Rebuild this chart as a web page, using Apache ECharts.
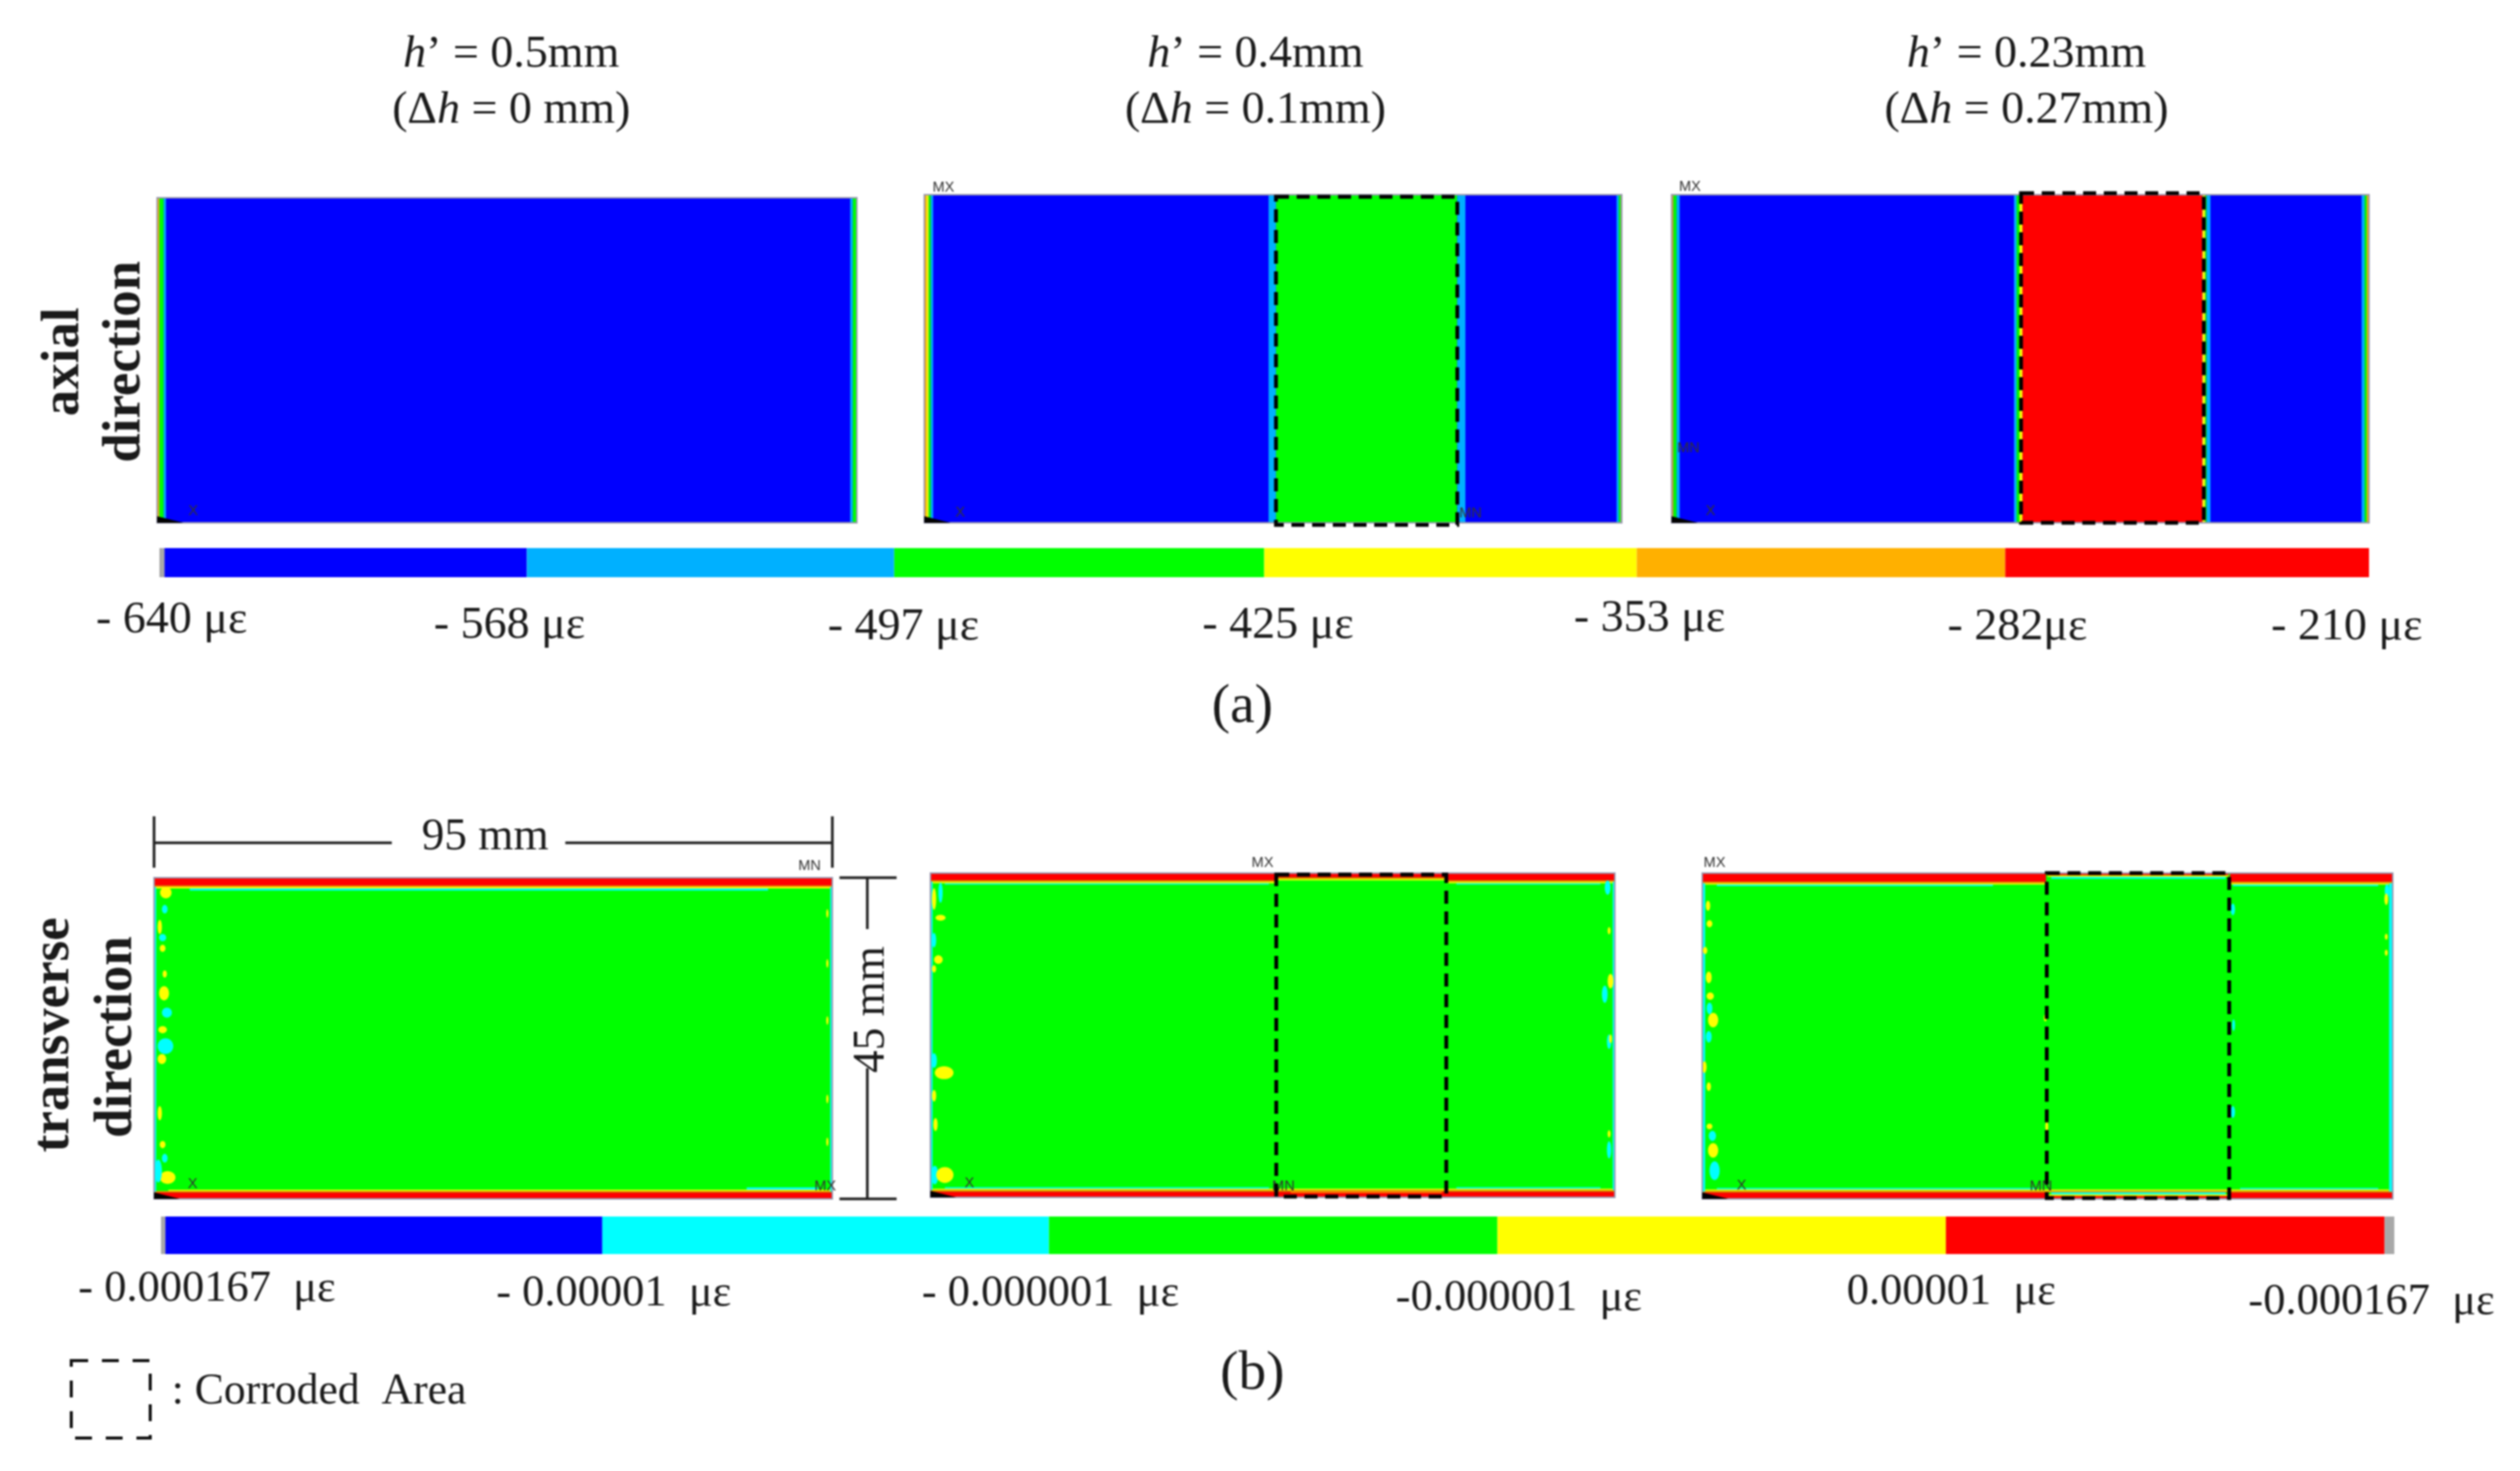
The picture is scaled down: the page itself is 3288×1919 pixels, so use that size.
<!DOCTYPE html>
<html>
<head>
<meta charset="utf-8">
<style>
html,body{margin:0;padding:0;background:#fff}
#chart{width:3288px;height:1919px;filter:blur(0.9px)}
</style>
<script src="https://cdn.jsdelivr.net/npm/echarts@6/dist/echarts.min.js"></script>
</head>
<body>
<div id="chart"></div>
<script>
// ---------- values (panel coordinates in mm, 95 x 45 plate) ----------
const panelLengthMm = 95;
const panelHeightMm = 45;

const headings = [["0.5mm", "0 mm"], ["0.4mm", "0.1mm"], ["0.23mm", "0.27mm"]];

// strain scale: tick values, labels and where each colour band starts
const axialTicks = [-640, -568, -497, -425, -353, -282, -210];
const axialTickLabels = ["- 640 με", "- 568 με", "- 497 με", "- 425 με", "- 353 με", "- 282με", "- 210 με"];
const axialBandStarts = [-640, -568.5, -497, -425, -352.5, -280.8];
const axialBandKeys = ["B", "C", "G", "Y", "O", "R"];

const transverseTicks = [0, 0.992, 1.996, 3.004, 4.012, 4.998];
const transverseEnd = 5.02;
const transverseTickLabels = ["- 0.000167  με", "- 0.00001  με", "- 0.000001  με", "-0.000001  με", "0.00001  με", "-0.000167  με"];
const transverseBandStarts = [0, 0.992, 1.996, 3.004, 4.012, 4.998];
const transverseBandKeys = ["B", "C", "G", "Y", "R", "N"];

// contour regions [x0, x1, y0, y1, colourKey]
const axial1Regions = [
  [0, 95, 0, 45, "B"],
  [0, 0.3, 0, 45, "O"], [0.3, 0.9, 0, 45, "G"], [0.9, 1.2, 0, 45, "C"],
  [94.1, 94.45, 0, 45, "C"], [94.45, 95, 0, 45, "G"]
];
const axial2Regions = [
  [0, 95, 0, 45, "B"],
  [0, 0.3, 0, 45, "O"], [0.3, 0.6, 0, 45, "Y"], [0.6, 0.9, 0, 45, "G"], [0.9, 1.2, 0, 45, "C"],
  [46.9, 47.9, 0, 45, "C"], [47.9, 72.6, 0, 45, "G"], [72.6, 73.7, 0, 45, "C"],
  [94.3, 94.6, 0, 45, "C"], [94.6, 94.85, 0, 45, "G"], [94.85, 95, 0, 45, "Y"]
];
const axial3Regions = [
  [0, 95, 0, 45, "B"],
  [0, 0.25, 0, 45, "O"], [0.25, 0.7, 0, 45, "G"], [0.7, 1.1, 0, 45, "C"],
  [46.65, 47, 0, 45, "C"], [47, 47.4, 0, 45, "G"], [47.4, 47.8, 0, 45, "Y"], [47.8, 72.3, 0, 45, "R"],
  [72.3, 72.7, 0, 45, "Y"], [72.7, 72.9, 0, 45, "G"], [72.9, 73.4, 0, 45, "C"],
  [94, 94.4, 0, 45, "C"], [94.4, 94.7, 0, 45, "G"], [94.7, 95, 0, 45, "O"]
];
const trans1Regions = [
  [0, 95, 0, 45, "G"],
  [5, 86, 43.2, 43.5, "C"], [0, 95, 43.5, 43.7, "Y"], [0, 95, 43.7, 43.9, "O"], [0, 95, 43.9, 45, "R"],
  [83, 93, 1.3, 1.6, "C"], [2, 95, 1.1, 1.3, "Y"], [0, 95, 0.9, 1.1, "O"], [0, 95, 0, 0.9, "R"],
  [0, 0.3, 1, 43.7, "C"], [94.7, 95, 1, 43.7, "C"]
];
const trans2Regions = [
  [0, 95, 0, 45, "G"],
  [2, 47, 43.4, 43.6, "C"], [73, 93, 43.4, 43.6, "C"],
  [0, 48, 43.6, 43.8, "Y"], [71.6, 95, 43.6, 43.8, "Y"], [48, 71.6, 44, 44.2, "Y"],
  [0, 48, 43.8, 44, "O"], [71.6, 95, 43.8, 44, "O"], [48, 71.6, 44.2, 44.4, "O"],
  [0, 48, 44, 45, "R"], [71.6, 95, 44, 45, "R"], [48, 71.6, 44.4, 45, "R"],
  [2, 47, 1.2, 1.4, "C"], [73, 93, 1.2, 1.4, "C"],
  [0, 95, 1, 1.2, "Y"], [0, 95, 0.8, 1, "O"], [0, 95, 0, 0.8, "R"],
  [50, 71, 0.6, 0.8, "O"],
  [0, 0.3, 1, 43.8, "C"], [94.7, 95, 1, 43.8, "C"]
];
const trans3Regions = [
  [0, 95, 0, 45, "G"],
  [2, 40, 43.2, 43.4, "C"], [73, 93, 43.2, 43.4, "C"],
  [0, 47.3, 43.4, 43.6, "Y"], [72.6, 95, 43.4, 43.6, "Y"],
  [0, 47.3, 43.6, 43.8, "O"], [72.6, 95, 43.6, 43.8, "O"],
  [0, 47.3, 43.8, 45, "R"], [72.6, 95, 43.8, 45, "R"],
  [48, 72, 44.2, 44.5, "C"], [47.5, 72.4, 44.5, 44.7, "Y"], [47.5, 72.4, 44.7, 45, "R"],
  [2, 46, 1.3, 1.5, "C"], [74, 93, 1.3, 1.5, "C"],
  [0, 95, 1.1, 1.3, "Y"], [0, 95, 0.9, 1.1, "O"], [0, 47.3, 0, 0.9, "R"], [72.6, 95, 0, 0.9, "R"],
  [48, 72, 0.6, 0.9, "C"], [47.5, 72.4, 0.4, 0.6, "Y"], [47.5, 72.4, 0, 0.4, "R"],
  [0, 0.4, 1, 43.6, "C"], [94.5, 95, 1, 43.6, "C"]
];

// small contour islands [x, y, xRadius, yRadius, colourKey]
const trans1Islands = [
  [1.65,42.9,.8,.8,"Y"],[.8,38.1,.3,1,"Y"],[1.5,40.6,.4,.6,"C"],[1.2,35.1,.4,.5,"Y"],[1.2,36.6,.5,.5,"C"],
  [1.5,31.5,.3,.5,"Y"],[1.4,28.8,.7,1,"Y"],[1.8,26.1,.7,.7,"C"],[1.2,23.7,.6,.5,"Y"],[1.6,21.4,1.1,1.1,"C"],
  [1.1,19.6,.6,.7,"Y"],[.8,12,.3,1,"Y"],[1.2,7.6,.4,.5,"Y"],[1.5,5.7,.4,.6,"C"],[1.9,3,1.1,.9,"Y"],[.6,3.9,.5,1.6,"C"],
  [94.3,40,.15,.6,"Y"],[94.3,33,.15,.6,"Y"],[94.3,25,.15,.6,"Y"],[94.3,14,.15,.6,"Y"],[94.3,8,.15,.6,"Y"]
];
const trans2Islands = [
  [1.4,42.3,.3,1.4,"C"],[.5,41.4,.3,1.5,"Y"],[1.4,38.8,.7,.4,"Y"],[.5,35.7,.3,1,"C"],[1.1,33,.6,.6,"Y"],[.5,31.7,.3,.5,"Y"],
  [.5,19,.4,1,"C"],[1.9,17.3,1.3,.9,"Y"],[.5,14.1,.3,.8,"Y"],[.7,10.1,.3,.9,"Y"],[.6,3.1,.5,1.3,"C"],[2,3.1,1.2,1.1,"Y"],
  [94,43,.4,1,"C"],[93.6,28.2,.4,1.2,"C"],[94.4,30,.4,1,"Y"],[94.2,37,.2,.5,"Y"],[94.2,21.6,.3,1,"C"],[94.4,22,.2,.6,"Y"],
  [94.2,6.6,.3,1.2,"C"],[94.2,8.8,.2,.5,"Y"]
];
const trans3Islands = [
  [.8,40.5,.3,.7,"Y"],[1,38,.4,.5,"Y"],[.4,34.3,.3,.5,"Y"],[.9,30.6,.4,.8,"Y"],[1.1,28,.5,.5,"Y"],[1.5,24.7,.7,1,"Y"],
  [.3,18.2,.3,.8,"Y"],[.9,15.5,.3,.6,"Y"],[1,10,.4,.4,"Y"],[1.5,6.7,.7,1,"Y"],[1,26.3,.4,.8,"C"],[.9,22.4,.4,.8,"C"],
  [1.4,8.7,.5,.7,"C"],[1.7,3.9,.7,1.3,"C"],[94.2,42.5,.3,1,"C"],[94.1,41.4,.25,.8,"Y"],[94.1,36.2,.2,.4,"Y"],[94.1,34,.2,.4,"Y"],
  [47.3,34,.2,.5,"C"],[47.2,25,.2,.5,"Y"],[47.4,10,.2,.7,"Y"],[73,40,.3,.8,"C"],[73.1,24,.2,.8,"C"],[73,12,.3,.8,"C"]
];

// corroded area rectangles [x0, x1, y0, y1]
const axial2Corroded = [47.9, 72.6, -0.3, 44.7];
const axial3Corroded = [47.6, 72.5, 0, 45.2];
const trans2Corroded = [48, 71.6, 0.1, 44.8];
const trans3Corroded = [47.4, 72.5, 0.1, 45];

// solver marks [x, y, text]
const axial1Marks = [[4.9, 0.6, "X"]];
const axial2Marks = [[4.9, 0.4, "X"], [74.4, 0.3, "MN"], [2.6, 45, "MX"]];
const axial3Marks = [[5.3, 0.6, "X"], [2.5, 45.1, "MX"], [2.3, 9.2, "MN"]];
const trans1Marks = [[91.8, 45.6, "MN"], [5.4, 1, "X"], [94, 0.7, "MX"]];
const trans2Marks = [[46.1, 45.4, "MX"], [5.4, 0.9, "X"], [49, 0.5, "MN"]];
const trans3Marks = [[1.7, 45.4, "MX"], [5.4, 0.8, "X"], [46.6, 0.7, "MN"]];

// dimension lines on the first transverse panel, mm [x0, y0, x1, y1]
const dimensionLines = [
  [0, 49.9, 33.3, 49.9], [57.6, 49.9, 95, 49.9], [0, 46.4, 0, 53.6], [95, 46.4, 95, 53.6],
  [99.9, 45, 99.9, 37.8], [99.9, 18.3, 99.9, 0], [96, 45, 104, 45], [96, 0, 104, 0]
];

// ---------- styles and layout ----------
const axialColors = {B:"#0000ff", C:"#00b0ff", G:"#00ff00", Y:"#ffff00", O:"#ffb000", R:"#ff0000", N:"#a8a8a8"};
const transColors = {B:"#0000ff", C:"#00ffff", G:"#00ff00", Y:"#ffff00", O:"#ff9000", R:"#ff0000", N:"#a8a8a8"};
const SERIF = '"Liberation Serif","Times New Roman",serif';

const panels = [
  {box:[205,258,913,424], regions:axial1Regions, islands:[], corroded:null, marks:axial1Marks, colors:axialColors},
  {box:[1206,254,910,428], regions:axial2Regions, islands:[], corroded:axial2Corroded, marks:axial2Marks, colors:axialColors},
  {box:[2181,254,910,428], regions:axial3Regions, islands:[], corroded:axial3Corroded, marks:axial3Marks, colors:axialColors},
  {box:[201,1145,885,419], regions:trans1Regions, islands:trans1Islands, corroded:null, marks:trans1Marks, colors:transColors},
  {box:[1214,1139,893,423], regions:trans2Regions, islands:trans2Islands, corroded:trans2Corroded, marks:trans2Marks, colors:transColors},
  {box:[2221,1139,901,425], regions:trans3Regions, islands:trans3Islands, corroded:trans3Corroded, marks:trans3Marks, colors:transColors}
];

const grids = [], xAxes = [], yAxes = [], series = [];

function addGrid(box, xMin, xMax, yMax) {
  const i = grids.length;
  grids.push({left:box[0], top:box[1], width:box[2], height:box[3], containLabel:false, show:false});
  xAxes.push({type:"value", gridIndex:i, min:xMin, max:xMax, show:false});
  yAxes.push({type:"value", gridIndex:i, min:0, max:yMax, show:false});
  return i;
}

function rectSeries(gi, data, colors, z) {
  series.push({
    type:"custom", xAxisIndex:gi, yAxisIndex:gi, coordinateSystem:"cartesian2d", z:z, silent:true,
    encode:{x:[0,1], y:[2,3]}, data:data,
    renderItem(params, api) {
      const a = api.coord([api.value(0), api.value(3)]);
      const b = api.coord([api.value(1), api.value(2)]);
      return {type:"rect", shape:{x:a[0], y:a[1], width:b[0]-a[0], height:b[1]-a[1]},
        style:{fill:colors[data[params.dataIndex][4]]}};
    }
  });
}

panels.forEach((p, idx) => {
  const gi = addGrid(p.box, 0, panelLengthMm, panelHeightMm);
  rectSeries(gi, p.regions, p.colors, 2);
  if (p.islands.length) {
    series.push({
      type:"custom", xAxisIndex:gi, yAxisIndex:gi, z:3, silent:true, encode:{x:0, y:1}, data:p.islands,
      renderItem(params, api) {
        const d = p.islands[params.dataIndex];
        const c = api.coord([d[0], d[1]]);
        const e = api.coord([d[0]+d[2], d[1]+d[3]]);
        return {type:"ellipse", shape:{cx:c[0], cy:c[1], rx:Math.abs(e[0]-c[0]), ry:Math.abs(e[1]-c[1])},
          style:{fill:p.colors[d[4]]}};
      }
    });
  }
  // outline of the plate and the small black corner triangle
  series.push({
    type:"custom", xAxisIndex:gi, yAxisIndex:gi, z:4, silent:true, encode:{x:0, y:1}, data:[[0,0]],
    renderItem(params, api) {
      const o = api.coord([0,0]), w = api.coord([3.6,0]), h = api.coord([0,0.9]), t = api.coord([panelLengthMm,panelHeightMm]);
      return {type:"group", children:[
        {type:"rect", shape:{x:o[0], y:t[1], width:t[0]-o[0], height:o[1]-t[1]}, style:{fill:"none", stroke:"#9a9ab0", lineWidth:2}},
        {type:"polygon", shape:{points:[o, w, h]}, style:{fill:"#000"}}
      ]};
    }
  });
  series.push({
    type:"custom", xAxisIndex:gi, yAxisIndex:gi, z:5, silent:true, encode:{x:0, y:1}, data:p.marks,
    renderItem(params, api) {
      const d = p.marks[params.dataIndex];
      const c = api.coord([d[0], d[1]]);
      return {type:"text", x:c[0], y:c[1], style:{text:d[2], fill:"#333",
        font:'19px "Liberation Sans",sans-serif', textAlign:"center", textVerticalAlign:"bottom"}};
    }
  });
  if (p.corroded) {
    series.push({
      type:"custom", xAxisIndex:gi, yAxisIndex:gi, z:6, silent:true, encode:{x:[0,1], y:[2,3]}, data:[p.corroded],
      renderItem(params, api) {
        const a = api.coord([api.value(0), api.value(3)]);
        const b = api.coord([api.value(1), api.value(2)]);
        return {type:"rect", shape:{x:a[0], y:a[1], width:b[0]-a[0], height:b[1]-a[1]},
          style:{fill:"none", stroke:"#000", lineWidth:5, lineDash:[17,10]}};
      }
    });
  }
  if (idx === 3) {
    series.push({
      type:"custom", xAxisIndex:gi, yAxisIndex:gi, z:6, silent:true, encode:{x:[0,2], y:[1,3]}, data:dimensionLines,
      renderItem(params, api) {
        const a = api.coord([api.value(0), api.value(1)]);
        const b = api.coord([api.value(2), api.value(3)]);
        return {type:"line", shape:{x1:a[0], y1:a[1], x2:b[0], y2:b[1]}, style:{stroke:"#222", lineWidth:3.5}};
      }
    });
  }
});

function colorBar(box, min, max, ticks, starts, end, keys, colors, labels, fontSize, dx, dy, tips) {
  const gi = addGrid(box, min, max, 1);
  const bands = keys.map((k, i) => [starts[i], i + 1 < starts.length ? starts[i+1] : end, 0, 1, k]);
  rectSeries(gi, bands.concat(tips), colors, 2);
  const tickData = ticks.map(v => [v, 0]);
  series.push({
    type:"custom", xAxisIndex:gi, yAxisIndex:gi, z:5, silent:true, encode:{x:0, y:1}, data:tickData,
    renderItem(params, api) {
      const i = params.dataIndex;
      const c = api.coord([api.value(0), 0]);
      return {type:"text", x:c[0]+dx[i], y:c[1]+dy[i], style:{text:labels[i], fill:"#1a1a1a",
        font:fontSize+"px "+SERIF, textAlign:"center", textVerticalAlign:"middle"}};
    }
  });
}

colorBar([208,715,2883,38], axialTicks[0], axialTicks[6], axialTicks, axialBandStarts, axialTicks[6],
  axialBandKeys, axialColors, axialTickLabels, 60,
  [16,-26,12,18,20,24,-29], [56,63,65,63,54,65,65], [[-640,-639,0,1,"N"]]);

colorBar([210,1587,2914,49], 0, transverseEnd, transverseTicks, transverseBandStarts, transverseEnd,
  transverseBandKeys, transColors, transverseTickLabels, 58,
  [60,15,2,28,7,-17], [46,52,52,58,50,63], [[0,0.01,0,1,"N"]]);

// ---------- headings and annotation text ----------
const headingX = [662, 1633, 2639];
const graphicText = (text, x, y, size, opts = {}) => ({
  type:"text", x, y, rotation:opts.rotation || 0, z:20, silent:true,
  style:{text, fill:"#1a1a1a", font:(opts.bold ? "bold " : "")+size+"px "+SERIF,
    textAlign:opts.align || "center", textVerticalAlign:"middle"}
});

const titles = [];
headings.forEach((h, i) => {
  const textStyle = {fontFamily:SERIF, fontSize:60, fontWeight:"normal", color:"#1a1a1a",
    rich:{i:{fontFamily:SERIF, fontSize:60, fontStyle:"italic", color:"#1a1a1a"}}};
  titles.push({text:"{i|h}’ = " + h[0], left:headingX[i], top:36, textAlign:"center", textStyle});
  titles.push({text:"(Δ{i|h} = " + h[1] + ")", left:headingX[i], top:109, textAlign:"center", textStyle});
});

const graphics = [
  graphicText("axial", 84, 472, 69, {bold:true, rotation:Math.PI/2}),
  graphicText("direction", 164, 472, 69, {bold:true, rotation:Math.PI/2}),
  graphicText("transverse", 71, 1350, 69, {bold:true, rotation:Math.PI/2}),
  graphicText("direction", 153, 1353, 69, {bold:true, rotation:Math.PI/2}),
  graphicText("(a)", 1621, 923, 72),
  graphicText("(b)", 1634, 1793, 72),
  graphicText("95 mm", 633, 1092, 59),
  graphicText("45 mm", 1137, 1317, 59, {rotation:Math.PI/2}),
  graphicText(": Corroded  Area", 224, 1816, 57, {align:"left"}),
  {type:"rect", z:20, silent:true, shape:{x:93, y:1775, width:103, height:101},
   style:{fill:"none", stroke:"#111", lineWidth:4, lineDash:[22,18]}}
];

const chart = echarts.init(document.getElementById("chart"), null, {renderer:"canvas"});
chart.setOption({
  backgroundColor:"#fff",
  animation:false,
  tooltip:{show:false},
  title:titles,
  grid:grids,
  xAxis:xAxes,
  yAxis:yAxes,
  series:series,
  graphic:graphics
});
</script>
</body>
</html>
